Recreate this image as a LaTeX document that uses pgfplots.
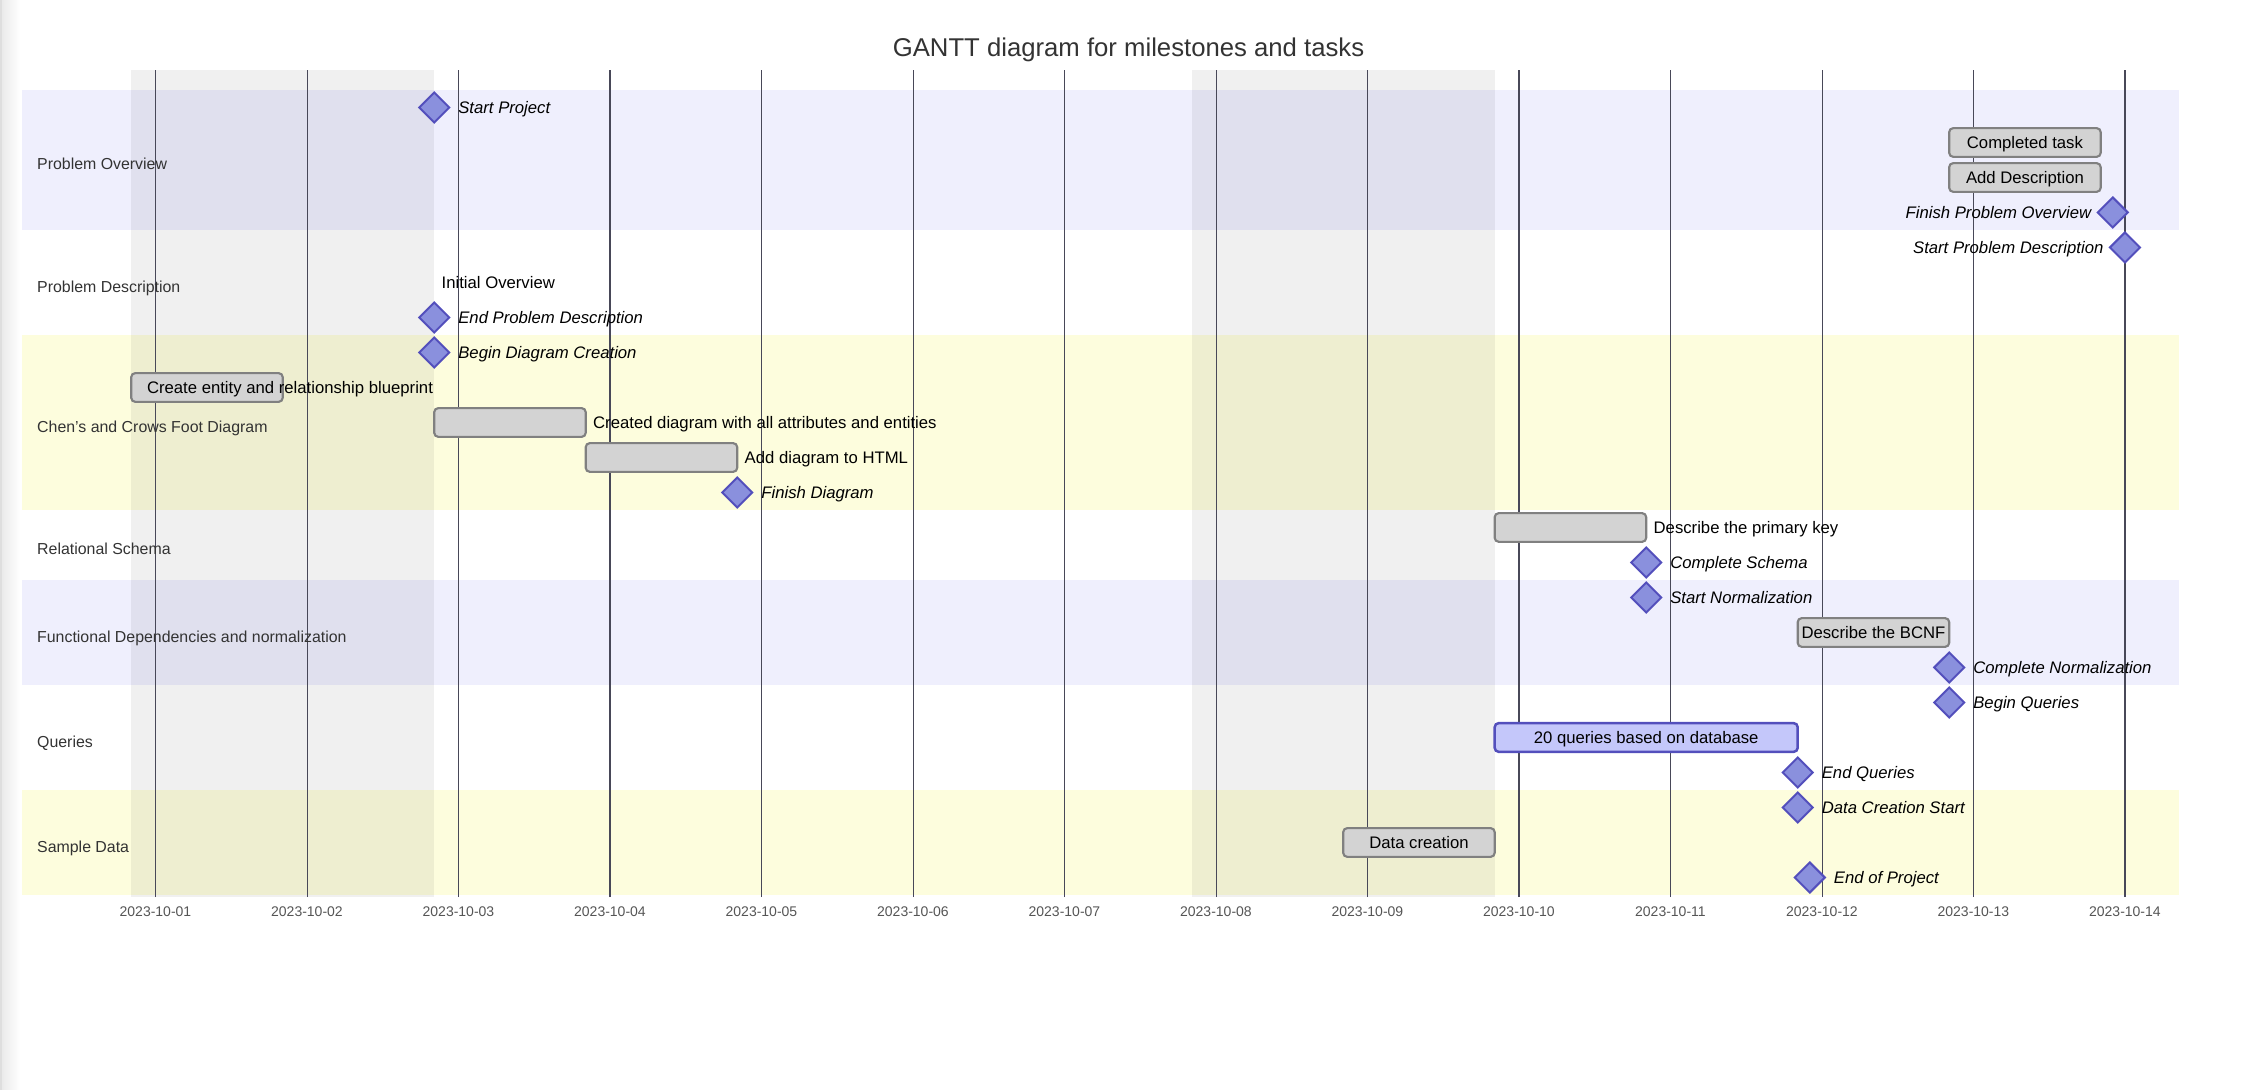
\documentclass[border=0pt]{standalone}
\usepackage{pgfplots}
\pgfplotsset{compat=1.18}
\usepackage{fontspec}
\setmainfont{Liberation Sans}
\definecolor{secA}{RGB}{239,239,253}
\definecolor{secB}{RGB}{253,253,221}
\definecolor{gridc}{RGB}{72,72,88}
\definecolor{donefill}{RGB}{211,211,211}
\definecolor{doneborder}{RGB}{128,128,128}
\definecolor{actfill}{RGB}{196,199,250}
\definecolor{actborder}{RGB}{83,79,188}
\definecolor{msfill}{RGB}{138,144,221}
\definecolor{msborder}{RGB}{83,79,188}
\definecolor{titlec}{RGB}{51,51,51}
\definecolor{tickc}{RGB}{85,85,85}
\tikzset{
  tl/.style={inner sep=0pt, text height=4.81pt, text depth=0pt, font=\fontsize{6.68pt}{8pt}\selectfont, text=black},
  ml/.style={inner sep=0pt, text height=4.81pt, text depth=0pt, font=\fontsize{6.68pt}{8pt}\selectfont\itshape, text=black},
  sl/.style={inner sep=0pt, text height=4.58pt, text depth=0pt, font=\fontsize{6.36pt}{8pt}\selectfont, text=titlec, anchor=west},
  donebar/.style={draw=doneborder, fill=donefill, line width=0.85pt, rounded corners=1.6pt},
  actbar/.style={draw=actborder, fill=actfill, line width=1pt, rounded corners=1.6pt},
  band/.style={draw=none},
  thickg/.style={draw=gridc, line width=0.75pt},
  medg/.style={draw=gridc, line width=0.55pt},
  thing/.style={draw=gridc, line width=0.35pt},
}
\begin{document}
\begin{tikzpicture}
\useasboundingbox (0,0) rectangle (902.8pt,436pt);
\shade[left color=black!9, right color=white] (0,0) rectangle (8pt,436pt);
\fill[black!13] (0,0) rectangle (0.7pt,436pt);
\node[font=\fontsize{10.28pt}{12pt}\selectfont, text=titlec, text height=7.4pt, text depth=0pt, inner sep=0pt] at (451.4pt,417.1pt) {GANTT diagram for milestones and tasks};
\begin{axis}[
  at={(8.8pt,77.16pt)}, anchor=south west,
  scale only axis, width=862.8pt, height=330.68pt,
  xmin=-0.881, xmax=13.357, ymin=0.44, ymax=24.06,
  clip=false,
  axis line style={draw=none},
  tick style={draw=none},
  major tick length=0pt,
  ytick=\empty,
  xtick={0,1,2,3,4,5,6,7,8,9,10,11,12,13},
  xticklabels={2023-10-01,2023-10-02,2023-10-03,2023-10-04,2023-10-05,2023-10-06,2023-10-07,2023-10-08,2023-10-09,2023-10-10,2023-10-11,2023-10-12,2023-10-13,2023-10-14},
  xticklabel style={font=\fontsize{5.6pt}{6.7pt}\selectfont, text=tickc, anchor=center, yshift=-5.84pt, inner sep=0pt, text height=4.03pt, text depth=0pt},
]
% section bands
\addplot[band, fill=secA] coordinates {(-0.881,19.5) (13.357,19.5) (13.357,23.5) (-0.881,23.5)} -- cycle;
\addplot[band, fill=secB] coordinates {(-0.881,11.5) (13.357,11.5) (13.357,16.5) (-0.881,16.5)} -- cycle;
\addplot[band, fill=secA] coordinates {(-0.881,6.5) (13.357,6.5) (13.357,9.5) (-0.881,9.5)} -- cycle;
\addplot[band, fill=secB] coordinates {(-0.881,0.5) (13.357,0.5) (13.357,3.5) (-0.881,3.5)} -- cycle;
% weekends
\addplot[band, fill=black, fill opacity=0.06] coordinates {(-0.16,0.44) (1.84,0.44) (1.84,24.06) (-0.16,24.06)} -- cycle;
\addplot[band, fill=black, fill opacity=0.06] coordinates {(6.84,0.44) (8.84,0.44) (8.84,24.06) (6.84,24.06)} -- cycle;
% grid lines
\addplot[thickg] coordinates {(0,0.44) (0,24.06)};
\addplot[thing] coordinates {(1,0.44) (1,24.06)};
\addplot[thickg] coordinates {(2,0.44) (2,24.06)};
\addplot[medg] coordinates {(3,0.44) (3,24.06)};
\addplot[thickg] coordinates {(4,0.44) (4,24.06)};
\addplot[thing] coordinates {(5,0.44) (5,24.06)};
\addplot[thickg] coordinates {(6,0.44) (6,24.06)};
\addplot[thing] coordinates {(7,0.44) (7,24.06)};
\addplot[thickg] coordinates {(8,0.44) (8,24.06)};
\addplot[medg] coordinates {(9,0.44) (9,24.06)};
\addplot[thickg] coordinates {(10,0.44) (10,24.06)};
\addplot[thing] coordinates {(11,0.44) (11,24.06)};
\addplot[thickg] coordinates {(12,0.44) (12,24.06)};
\addplot[medg] coordinates {(13,0.44) (13,24.06)};
% task bars
\addplot[donebar] coordinates {(11.84,21.59) (12.84,21.59) (12.84,22.41) (11.84,22.41)} -- cycle;
\addplot[donebar] coordinates {(11.84,20.59) (12.84,20.59) (12.84,21.41) (11.84,21.41)} -- cycle;
\addplot[donebar] coordinates {(-0.16,14.59) (0.84,14.59) (0.84,15.41) (-0.16,15.41)} -- cycle;
\addplot[donebar] coordinates {(1.84,13.59) (2.84,13.59) (2.84,14.41) (1.84,14.41)} -- cycle;
\addplot[donebar] coordinates {(2.84,12.59) (3.84,12.59) (3.84,13.41) (2.84,13.41)} -- cycle;
\addplot[donebar] coordinates {(8.84,10.59) (9.84,10.59) (9.84,11.41) (8.84,11.41)} -- cycle;
\addplot[donebar] coordinates {(10.84,7.59) (11.84,7.59) (11.84,8.41) (10.84,8.41)} -- cycle;
\addplot[actbar] coordinates {(8.84,4.59) (10.84,4.59) (10.84,5.41) (8.84,5.41)} -- cycle;
\addplot[donebar] coordinates {(7.84,1.59) (8.84,1.59) (8.84,2.41) (7.84,2.41)} -- cycle;
% milestones
\addplot[only marks, mark=square*, mark size=4.25pt, mark options={rotate=45, fill=msfill, draw=msborder, line width=0.8pt, rounded corners=0.8pt}] coordinates {
(1.84,23) (12.92,20) (13.0,19) (1.84,17) (1.84,16) (3.84,12) (9.84,10) (9.84,9) (11.84,7) (11.84,6) (10.84,4) (10.84,3) (10.92,1)};
% section labels
\node[sl] at (axis cs:-0.784,21.38) {Problem Overview};
\node[sl] at (axis cs:-0.784,17.88) {Problem Description};
\node[sl] at (axis cs:-0.784,13.88) {Chen's and Crows Foot Diagram};
\node[sl] at (axis cs:-0.784,10.38) {Relational Schema};
\node[sl] at (axis cs:-0.784,7.88) {Functional Dependencies and normalization};
\node[sl] at (axis cs:-0.784,4.88) {Queries};
\node[sl] at (axis cs:-0.784,1.88) {Sample Data};
% task texts
\node[ml, anchor=west] at (axis cs:1.996,23) {Start Project};
\node[tl, anchor=center] at (axis cs:12.34,22) {Completed task};
\node[tl, anchor=center] at (axis cs:12.34,21) {Add Description};
\node[ml, anchor=east] at (axis cs:12.781,20) {Finish Problem Overview};
\node[ml, anchor=east] at (axis cs:12.861,19) {Start Problem Description};
\node[tl, anchor=west] at (axis cs:1.886,18) {Initial Overview};
\node[ml, anchor=west] at (axis cs:1.996,17) {End Problem Description};
\node[ml, anchor=west] at (axis cs:1.996,16) {Begin Diagram Creation};
\node[tl, anchor=west] at (axis cs:-0.059,15) {Create entity and relationship blueprint};
\node[tl, anchor=west] at (axis cs:2.886,14) {Created diagram with all attributes and entities};
\node[tl, anchor=west] at (axis cs:3.886,13) {Add diagram to HTML};
\node[ml, anchor=west] at (axis cs:3.996,12) {Finish Diagram};
\node[tl, anchor=west] at (axis cs:9.886,11) {Describe the primary key};
\node[ml, anchor=west] at (axis cs:9.996,10) {Complete Schema};
\node[ml, anchor=west] at (axis cs:9.996,9) {Start Normalization};
\node[tl, anchor=center] at (axis cs:11.34,8) {Describe the BCNF};
\node[ml, anchor=west] at (axis cs:11.996,7) {Complete Normalization};
\node[ml, anchor=west] at (axis cs:11.996,6) {Begin Queries};
\node[tl, anchor=center] at (axis cs:9.84,5) {20 queries based on database};
\node[ml, anchor=west] at (axis cs:10.996,4) {End Queries};
\node[ml, anchor=west] at (axis cs:10.996,3) {Data Creation Start};
\node[tl, anchor=center] at (axis cs:8.34,2) {Data creation};
\node[ml, anchor=west] at (axis cs:11.076,1) {End of Project};
\end{axis}
\end{tikzpicture}
\end{document}
